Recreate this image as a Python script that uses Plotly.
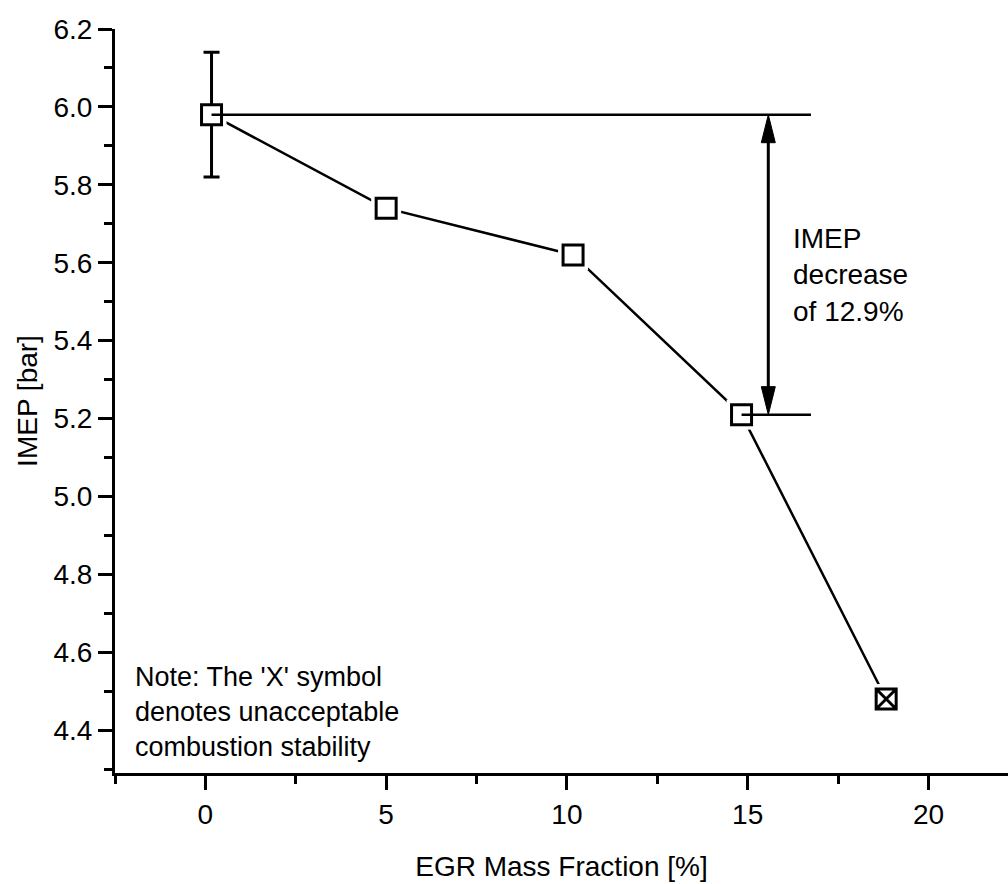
import plotly.graph_objects as go

# ---- data ----
egr = [0.17, 5.0, 10.17, 14.83, 18.83]
imep = [5.98, 5.74, 5.62, 5.21, 4.48]
imep_err = [0.16, 0, 0, 0, 0]
symbols = ["square", "square", "square", "square", "square-x"]

ref_line_end = 16.75
arrow_x = 15.57
note_text = "Note: The 'X' symbol<br>denotes unacceptable<br>combustion stability"
decrease_text = "IMEP<br>decrease<br>of 12.9%"

x_range = [-2.5, 22.2]
y_range = [4.29, 6.2]

FONT = "Arial, Liberation Sans, Helvetica, sans-serif"
W, H = 1008, 884
ML, MR, MT, MB = 115, 0, 29, 111
px_per_x = (W - ML - MR) / (x_range[1] - x_range[0])
px_per_y = (H - MT - MB) / (y_range[1] - y_range[0])

fig = go.Figure()

# connecting line
fig.add_trace(go.Scatter(x=egr, y=imep, mode="lines",
                         line=dict(color="black", width=2.5), showlegend=False,
                         hoverinfo="skip"))
# white halo markers to create gaps between line and symbols
fig.add_trace(go.Scatter(x=egr, y=imep, mode="markers",
                         marker=dict(symbol="square", size=30, color="white",
                                     line=dict(width=0)),
                         showlegend=False, hoverinfo="skip"))
# main markers with error bar
fig.add_trace(go.Scatter(x=egr, y=imep, mode="markers",
                         marker=dict(symbol=symbols, size=20, color="white",
                                     line=dict(color="black", width=3)),
                         error_y=dict(type="data", array=imep_err, visible=True,
                                      color="black", thickness=3, width=8),
                         showlegend=False))
# horizontal reference lines
for i in (0, 3):
    fig.add_trace(go.Scatter(x=[egr[i], ref_line_end], y=[imep[i], imep[i]],
                             mode="lines", line=dict(color="black", width=2.5),
                             showlegend=False, hoverinfo="skip"))

# double-headed arrow
top_y, bot_y = imep[0], imep[3]
head_len = 28 / px_per_y
head_hw = 7 / px_per_x
fig.add_shape(type="line", x0=arrow_x, x1=arrow_x, y0=bot_y + head_len * 0.5,
              y1=top_y - head_len * 0.5, line=dict(color="black", width=3))
fig.add_shape(type="path",
              path=f"M {arrow_x},{top_y} L {arrow_x - head_hw},{top_y - head_len} "
                   f"L {arrow_x + head_hw},{top_y - head_len} Z",
              fillcolor="black", line=dict(color="black", width=1))
fig.add_shape(type="path",
              path=f"M {arrow_x},{bot_y} L {arrow_x - head_hw},{bot_y + head_len} "
                   f"L {arrow_x + head_hw},{bot_y + head_len} Z",
              fillcolor="black", line=dict(color="black", width=1))

fig.add_annotation(x=16.2, y=5.568, xref="x", yref="y", text=decrease_text,
                   showarrow=False, xanchor="left", yanchor="middle", align="left",
                   font=dict(family=FONT, size=28, color="black"))
fig.add_annotation(x=-2.0, y=4.447, xref="x", yref="y", text=note_text,
                   showarrow=False, xanchor="left", yanchor="middle", align="left",
                   font=dict(family=FONT, size=27, color="black"))

axis_common = dict(showgrid=False, zeroline=False, showline=True, linecolor="black",
                   linewidth=3, ticks="outside", ticklen=14, tickwidth=2.5,
                   tickcolor="black", mirror=False,
                   tickfont=dict(family=FONT, size=28, color="black"))

fig.update_xaxes(range=x_range, tickmode="array", tickvals=[0, 5, 10, 15, 20],
                 ticktext=["0", "5", "10", "15", "20"],
                 minor=dict(tickmode="array", tickvals=[-2.5, 2.5, 7.5, 12.5, 17.5],
                            ticks="outside", ticklen=8, tickwidth=2.5, tickcolor="black"),
                 title=dict(text="EGR Mass Fraction [%]", standoff=28,
                            font=dict(family=FONT, size=28, color="black")),
                 **axis_common)
fig.update_yaxes(range=y_range, tickmode="array",
                 tickvals=[4.4, 4.6, 4.8, 5.0, 5.2, 5.4, 5.6, 5.8, 6.0, 6.2],
                 ticktext=["4.4", "4.6", "4.8", "5.0", "5.2", "5.4", "5.6", "5.8", "6.0", "6.2"],
                 minor=dict(tickmode="array",
                            tickvals=[4.3, 4.5, 4.7, 4.9, 5.1, 5.3, 5.5, 5.7, 5.9, 6.1],
                            ticks="outside", ticklen=8, tickwidth=2.5, tickcolor="black"),
                 title=dict(text="IMEP [bar]", standoff=8,
                            font=dict(family=FONT, size=28, color="black")),
                 **axis_common)

fig.update_layout(width=W, height=H, margin=dict(l=ML, r=MR, t=MT, b=MB, autoexpand=False),
                  plot_bgcolor="white", paper_bgcolor="white", showlegend=False)

fig.write_html("out.html")
